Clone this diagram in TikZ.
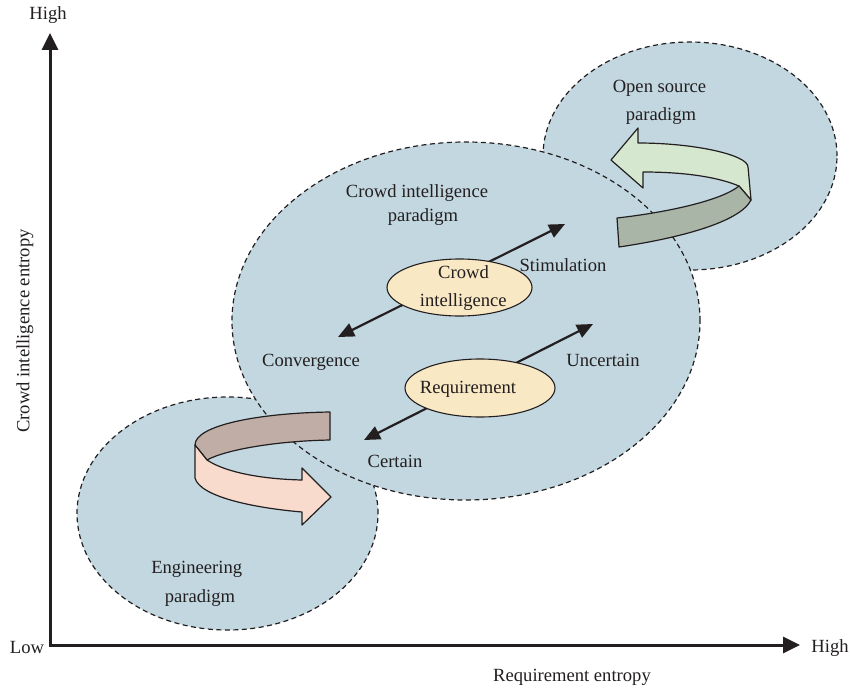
\documentclass[tikz,border=0pt]{standalone}
\usepackage{fontspec}
\setmainfont{Liberation Serif}
\usetikzlibrary{arrows.meta,shapes.geometric}
\definecolor{regionfill}{RGB}{194,215,224}
\definecolor{corefill}{RGB}{249,232,196}
\definecolor{greenlight}{RGB}{214,231,208}
\definecolor{greendark}{RGB}{169,181,167}
\definecolor{brownback}{RGB}{191,173,166}
\definecolor{pinkfront}{RGB}{248,219,205}
\definecolor{ink}{RGB}{35,31,32}
\tikzset{
  region/.style={ellipse, draw=ink, fill=regionfill, line width=1.2pt,
    dash pattern=on 5pt off 3.5pt, inner sep=0pt},
  core/.style={ellipse, draw=ink, fill=corefill, line width=1.1pt, inner sep=0pt},
  ribbon/.style={draw=ink, line width=1.2pt, line join=round},
  axisline/.style={draw=ink, line width=3pt, line join=miter,
    {Triangle[length=17pt,width=16pt]}-{Triangle[length=17pt,width=16pt]}},
  dual/.style={draw=ink, line width=2.2pt,
    {Triangle[length=16pt,width=14pt]}-{Triangle[length=16pt,width=14pt]}},
  lbl/.style={text=ink, align=center, inner sep=0pt},
  line/.style={text=ink, inner sep=0pt, anchor=base},
}
\begin{document}
\begin{tikzpicture}[x=1pt,y=-1pt,font=\fontsize{18.6}{28.5}\selectfont]
\useasboundingbox (0,0) rectangle (850,690);

% paradigm regions
\node[region, minimum width=294pt, minimum height=228pt] (open) at (690,156) {};
\node[region, minimum width=301pt, minimum height=233pt] (eng) at (227.5,513.5) {};
\node[region, minimum width=468pt, minimum height=358pt] (crowd) at (466,321) {};

% axes
\coordinate (ytop) at (50,33);
\coordinate (orig) at (50,645);
\coordinate (xend) at (800,645);
\draw[axisline] (ytop) -- (orig) -- (xend);

% open source ribbon
\path[ribbon, fill=greenlight] (611,160) -- (638,128) -- (638,143)
  .. controls (695,143) and (748,155) .. (748,167) -- (751,200) -- (739,186)
  .. controls (715,176) and (680,172) .. (643,172) -- (643,188) -- cycle;
\path[ribbon, fill=greendark] (617,218)
  .. controls (670,212) and (722,200) .. (739,186) -- (751,200)
  .. controls (740,222) and (680,238) .. (619,247) -- cycle;

% engineering ribbon
\path[ribbon, fill=brownback] (330,412)
  .. controls (260,413) and (195,425) .. (195,445) -- (207,460)
  .. controls (225,450) and (275,441) .. (330,440) -- cycle;
\path[ribbon, fill=pinkfront] (195,445) -- (207,460)
  .. controls (225,472) and (260,479) .. (302,480) -- (302,468) -- (331,497)
  -- (302,525) -- (302,512)
  .. controls (255,508) and (200,497) .. (195,478) -- cycle;

% double arrows
\coordinate (stim) at (565,224);
\coordinate (conv) at (338,337);
\coordinate (unc) at (593,324);
\coordinate (cert) at (364,440);
\draw[dual] (conv) -- (stim);
\draw[dual] (cert) -- (unc);

% core ellipses
\node[core, minimum width=145pt, minimum height=57pt] (ci) at (459.5,287.5) {};
\node[core, minimum width=150pt, minimum height=58pt] (req) at (480,388) {};

% texts
\node[line] (citexta) at (463.5,278.3) {Crowd};
\node[line] (citextb) at (463.3,306.7) {intelligence};
\node[lbl] (reqtext) at (468,389) {Requirement};
\node[line] (crowdtexta) at (417,197) {Crowd intelligence};
\node[line] (crowdtextb) at (423,221) {paradigm};
\node[line] (opentexta) at (659.5,93) {Open source};
\node[line] (opentextb) at (661,121) {paradigm};
\node[line] (engtexta) at (196.7,573.3) {Engineering};
\node[line] (engtextb) at (200,602.7) {paradigm};
\node[lbl] (stimtext) at (563,265) {Stimulation};
\node[lbl] (convtext) at (311,362) {Convergence};
\node[lbl] (unctext) at (603,360) {Uncertain};
\node[lbl] (certtext) at (395,461) {Certain};
\node[lbl] (yhigh) at (48,15) {High};
\node[lbl] (low) at (27,647) {Low};
\node[lbl] (xhigh) at (830,648) {High};
\node[lbl] (xlabel) at (572,677) {Requirement entropy};
\node[lbl, rotate=90] (ylabel) at (25,331) {Crowd intelligence entropy};
\end{tikzpicture}
\end{document}
